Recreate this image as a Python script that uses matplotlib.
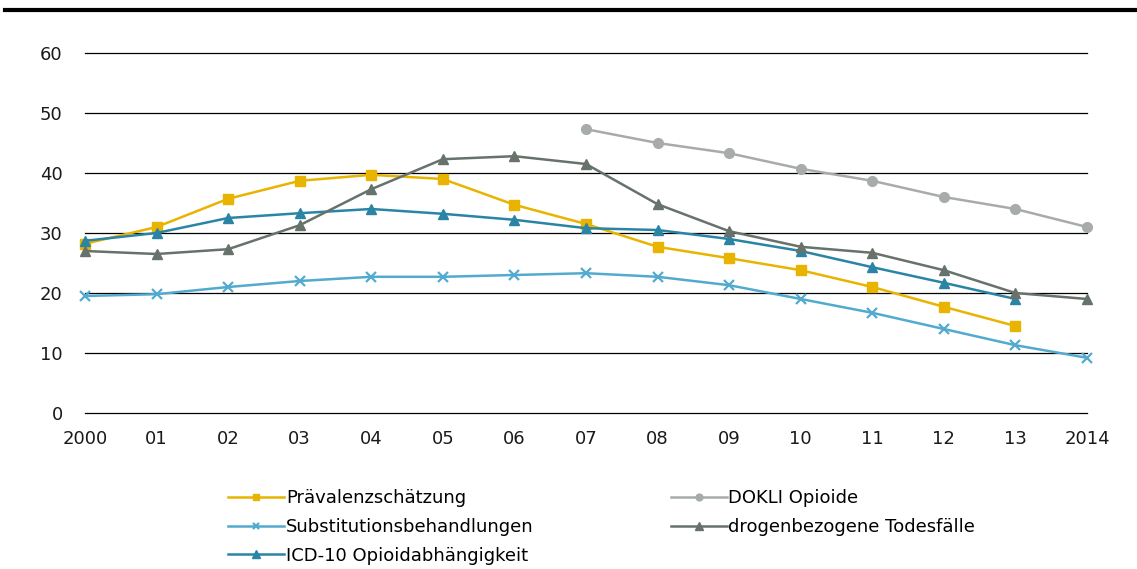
import matplotlib
matplotlib.use("Agg")
import matplotlib.pyplot as plt
from matplotlib.lines import Line2D

plt.rcParams['font.family'] = ['DejaVu Sans']

years = list(range(2000, 2015))
tick_labels = ["2000", "01", "02", "03", "04", "05", "06", "07", "08", "09", "10", "11", "12", "13", "2014"]

praevalenz = [28.2, 31.0, 35.7, 38.7, 39.7, 39.0, 34.7, 31.5, 27.7, 25.8, 23.8, 21.0, 17.7, 14.5, None]
substitution = [19.5, 19.8, 21.0, 22.0, 22.7, 22.7, 23.0, 23.3, 22.7, 21.3, 19.0, 16.7, 14.0, 11.3, 9.2]
icd10 = [28.7, 30.0, 32.5, 33.3, 34.0, 33.2, 32.2, 30.8, 30.5, 29.0, 27.0, 24.3, 21.7, 19.0, None]
dokli = [None]*7 + [47.3, 45.0, 43.3, 40.7, 38.7, 36.0, 34.0, 31.0]
todesfaelle = [27.0, 26.5, 27.3, 31.3, 37.3, 42.3, 42.8, 41.5, 34.8, 30.3, 27.7, 26.7, 23.8, 20.0, 19.0]

def clean(vals):
    xs = [y for y, v in zip(years, vals) if v is not None]
    ys = [v for v in vals if v is not None]
    return xs, ys

fig = plt.figure(figsize=(11.37, 5.69), dpi=100)
ax = fig.add_axes([85/1137, 1-413/569, (1087-85)/1137, 360/569])

for y in range(0, 61, 10):
    ax.axhline(y, color='black', lw=0.9, zorder=1, clip_on=False)

series = [
    ("Prävalenzschätzung", praevalenz, '#E8B400', 's', 6.5, {}),
    ("Substitutionsbehandlungen", substitution, '#52AACF', 'x', 6.5, {'markeredgewidth': 1.6}),
    ("ICD-10 Opioidabhängigkeit", icd10, '#2A84A6', '^', 7.5, {}),
    ("DOKLI Opioide", dokli, '#A7ACA9', 'o', 7, {}),
    ("drogenbezogene Todesfälle", todesfaelle, '#67726B', '^', 7.5, {}),
]
handles = []
for name, vals, col, mk, ms, kw in series:
    xs, ys = clean(vals)
    h, = ax.plot(xs, ys, color=col, lw=1.8, marker=mk, markersize=ms,
                 markerfacecolor=col, markeredgecolor=col, clip_on=False, zorder=3,
                 label=name, **kw)
    handles.append(h)

ax.set_xlim(2000, 2014)
ax.set_ylim(0, 60)
ax.set_xticks(years)
ax.set_xticklabels(tick_labels)
ax.set_yticks(range(0, 61, 10))
for s in ax.spines.values():
    s.set_visible(False)
ax.tick_params(axis='both', length=0, labelsize=13, colors='#1a1a1a')
ax.tick_params(axis='x', pad=12)
ax.tick_params(axis='y', pad=16)

leg = fig.legend(handles=handles, ncol=2, loc='upper left',
                 bbox_to_anchor=(228/1137, 1-489/569), frameon=False,
                 borderpad=0, borderaxespad=0,
                 fontsize=13, handlelength=3.1, handletextpad=0.1,
                 columnspacing=7.6, labelspacing=0.6, markerscale=0.7)

fig.add_artist(Line2D([0.004, 1.0], [1-10/569, 1-10/569], color='black', lw=3))

fig.savefig("out.png", dpi=100)
